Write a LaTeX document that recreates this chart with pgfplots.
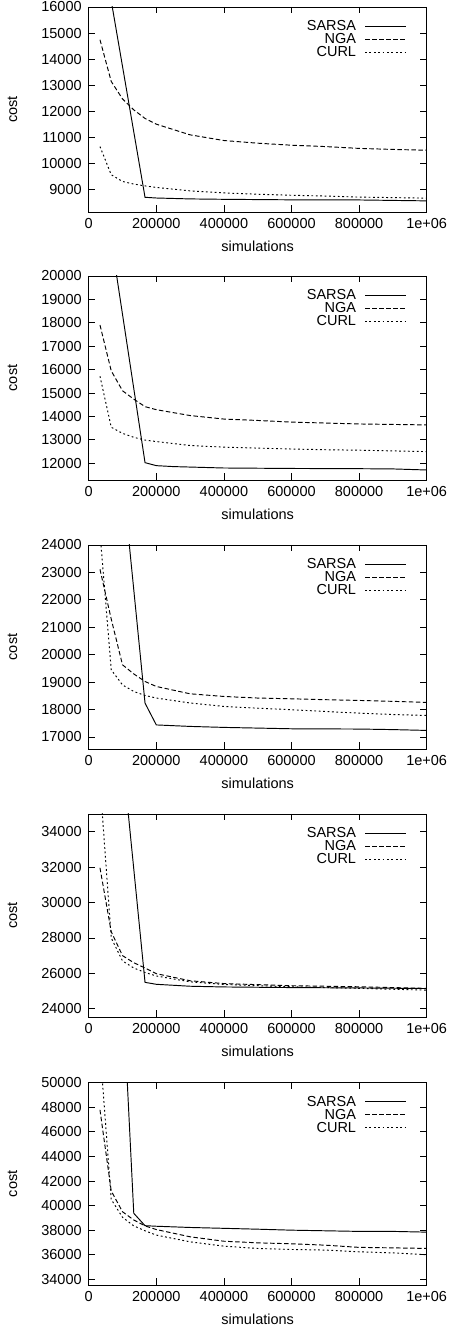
\documentclass[border=0pt]{standalone}
\usepackage{fontspec}
\setmainfont{Liberation Sans}
\usepackage{pgfplots}
\pgfplotsset{compat=1.18}
\pgfkeys{/pgf/number format/.cd,1000 sep={},assume math mode=true}
\newcommand{\fs}{\fontsize{14.5bp}{17bp}\selectfont}
\pgfplotsset{
 myax/.style={
  scale only axis, width=338bp,
  xmin=0, xmax=1000000,
  xtick={0,200000,400000,600000,800000,1000000},
  xticklabels={0,200000,400000,600000,800000,1e+06},
  scaled x ticks=false, scaled y ticks=false,
  tick align=inside, major tick length=6.5bp,
  axis line style={line width=0.8bp},
  every tick/.style={black, line width=0.8bp},
  font=\fs,
  tick label style={font=\fs},
  yticklabel style={xshift=-3.5bp},
  xticklabel style={yshift=-3bp},
  xlabel=simulations, ylabel=cost,
  xlabel style={at={(axis description cs:0.5,-0.195)}, anchor=base},
  ylabel style={at={(axis description cs:-0.212,0.5)}, anchor=base},
  legend style={draw=none, fill=none, at={(1,1)}, anchor=north east, font=\fs,
     xshift=-17bp, yshift=-9bp, row sep=-2.5bp},
  legend cell align=right, legend plot pos=right,
  legend image code/.code={\draw[draw=none] (0bp,0bp) -- (7bp,0bp);\draw[##1] (7bp,0bp) -- (48bp,0bp);},
  every axis plot/.append style={black, line width=0.95bp},
 },
 sarsa/.style={solid},
 nga/.style={dash pattern=on 4.5bp off 2.5bp},
 curl/.style={dash pattern=on 1.8bp off 2.6bp},
}
\begin{document}
\begin{tikzpicture}
\useasboundingbox (0,0) rectangle (450bp,1334bp);
% ---------------- plot 1
\begin{axis}[myax, at={(88.7bp,1327bp)}, anchor=north west, height=205bp,
  ymin=8128, ymax=16000, ytick={9000,10000,...,16000}]
\addplot[sarsa] coordinates {(33333,18750) (166667,8692) (200000,8665) (300000,8630) (400000,8615) (600000,8595) (800000,8590) (1000000,8555)};
\addlegendentry{SARSA}
\addplot[nga] coordinates {(33333,14744) (66667,13141) (100000,12470) (133333,12050) (166667,11720) (200000,11500) (300000,11090) (400000,10872) (500000,10770) (600000,10692) (700000,10640) (800000,10570) (900000,10530) (1000000,10500)};
\addlegendentry{NGA}
\addplot[curl] coordinates {(33333,10640) (66667,9560) (100000,9300) (133333,9200) (166667,9130) (200000,9070) (300000,8940) (400000,8860) (500000,8810) (600000,8770) (700000,8740) (800000,8700) (900000,8680) (1000000,8660)};
\addlegendentry{CURL}
\end{axis}
% ---------------- plot 2
\begin{axis}[myax, at={(88.7bp,1058bp)}, anchor=north west, height=204bp,
  ymin=11288, ymax=20000, ytick={12000,13000,...,20000}]
\addplot[sarsa] coordinates {(33333,24700) (166667,12028) (200000,11900) (250000,11860) (400000,11800) (600000,11780) (800000,11770) (900000,11760) (1000000,11715)};
\addlegendentry{SARSA}
\addplot[nga] coordinates {(33333,17907) (66667,15950) (100000,15100) (133333,14740) (166667,14420) (200000,14290) (300000,14040) (400000,13890) (500000,13830) (600000,13760) (700000,13720) (800000,13680) (900000,13660) (1000000,13640)};
\addlegendentry{NGA}
\addplot[curl] coordinates {(33333,15720) (66667,13540) (100000,13280) (133333,13110) (166667,12990) (200000,12930) (300000,12760) (400000,12690) (500000,12650) (600000,12610) (700000,12580) (800000,12560) (900000,12530) (1000000,12500)};
\addlegendentry{CURL}
\end{axis}
% ---------------- plot 3
\begin{axis}[myax, at={(88.7bp,789bp)}, anchor=north west, height=204bp,
  ymin=16563, ymax=24000, ytick={17000,18000,...,24000}]
\addplot[sarsa] coordinates {(33333,34780) (166667,18235) (200000,17440) (300000,17386) (400000,17350) (600000,17300) (800000,17290) (900000,17270) (1000000,17240)};
\addlegendentry{SARSA}
\addplot[nga] coordinates {(33333,23115) (66667,21300) (100000,19632) (133333,19300) (166667,19024) (200000,18842) (300000,18575) (400000,18478) (500000,18420) (600000,18393) (700000,18360) (800000,18333) (900000,18300) (1000000,18260)};
\addlegendentry{NGA}
\addplot[curl] coordinates {(33333,24460) (66667,19450) (100000,18900) (133333,18660) (166667,18515) (200000,18420) (300000,18240) (400000,18115) (500000,18050) (600000,17995) (700000,17930) (800000,17870) (900000,17820) (1000000,17785)};
\addlegendentry{CURL}
\end{axis}
% ---------------- plot 4
\begin{axis}[myax, at={(88.7bp,520bp)}, anchor=north west, height=203bp,
  ymin=23533, ymax=35000, ytick={24000,26000,...,34000}]
\addplot[sarsa] coordinates {(33333,51120) (166667,25490) (200000,25380) (300000,25270) (400000,25230) (600000,25195) (800000,25175) (1000000,25140)};
\addlegendentry{SARSA}
\addplot[nga] coordinates {(33333,31960) (66667,28350) (100000,27000) (133333,26600) (166667,26300) (200000,25980) (300000,25580) (400000,25420) (500000,25360) (600000,25300) (800000,25240) (1000000,25150)};
\addlegendentry{NGA}
\addplot[curl] coordinates {(33333,36850) (66667,28000) (100000,26700) (133333,26300) (166667,26050) (200000,25850) (300000,25520) (400000,25370) (500000,25300) (600000,25240) (800000,25150) (1000000,25050)};
\addlegendentry{CURL}
\end{axis}
% ---------------- plot 5
\begin{axis}[myax, at={(88.7bp,251.3bp)}, anchor=north west, height=202.3bp,
  ymin=33539, ymax=50000, ytick={34000,36000,...,50000}]
\addplot[sarsa] coordinates {(33333,75000) (66667,66000) (100000,57890) (133333,39373) (166667,38365) (200000,38320) (300000,38220) (400000,38150) (500000,38080) (600000,38000) (700000,37950) (800000,37900) (900000,37900) (1000000,37840)};
\addlegendentry{SARSA}
\addplot[nga] coordinates {(33333,47790) (66667,41190) (100000,39500) (133333,38830) (166667,38350) (200000,38050) (300000,37460) (400000,37100) (500000,36970) (600000,36890) (700000,36780) (800000,36600) (900000,36560) (1000000,36515)};
\addlegendentry{NGA}
\addplot[curl] coordinates {(33333,52790) (66667,40500) (100000,39050) (133333,38350) (166667,37950) (200000,37600) (300000,37050) (400000,36700) (500000,36510) (600000,36430) (700000,36380) (800000,36240) (900000,36150) (1000000,36000)};
\addlegendentry{CURL}
\end{axis}
\end{tikzpicture}
\end{document}
